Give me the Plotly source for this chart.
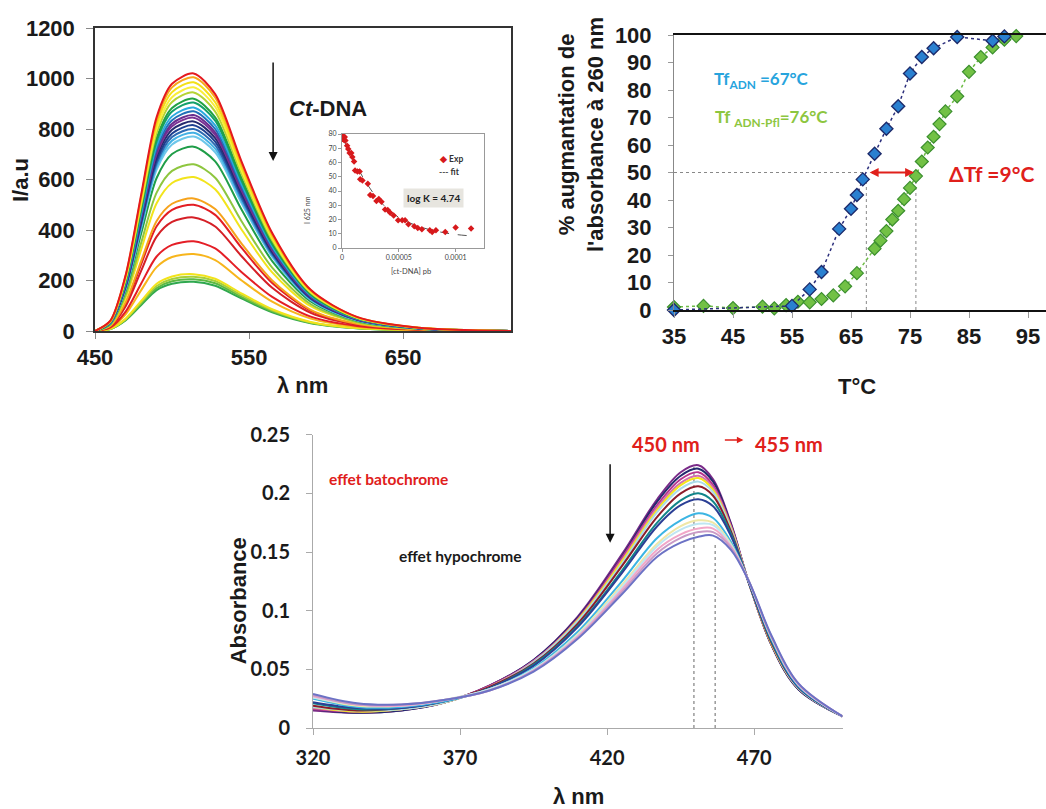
import plotly.graph_objects as go

W, H = 1046, 809
def PX(x): return x / W
def PY(y): return 1 - y / H

# ---------------- top-left: emission spectra ----------------
em_wavelength = [450, 460, 470, 480, 490, 500, 514, 528, 545, 565, 590, 620, 660, 720]
em_intensity = [
    [0, 41, 224, 541, 847, 979, 1020, 938, 673, 388, 163, 56, 13, 0],
    [0, 40, 221, 533, 834, 965, 1005, 925, 663, 382, 161, 55, 13, 0],
    [0, 39, 217, 522, 818, 946, 985, 906, 650, 374, 158, 54, 13, 0],
    [0, 39, 212, 511, 801, 926, 965, 888, 637, 367, 154, 53, 13, 0],
    [0, 38, 208, 501, 784, 907, 945, 869, 624, 359, 151, 52, 12, 0],
    [0, 37, 202, 488, 764, 883, 920, 846, 607, 350, 147, 51, 12, 0],
    [0, 36, 199, 480, 751, 869, 905, 833, 597, 344, 145, 50, 12, 0],
    [0, 35, 195, 469, 735, 850, 885, 814, 584, 336, 142, 49, 12, 0],
    [0, 35, 191, 461, 722, 835, 870, 800, 574, 331, 139, 48, 11, 0],
    [0, 34, 188, 453, 710, 821, 855, 787, 564, 325, 137, 47, 11, 0],
    [0, 34, 186, 448, 701, 811, 845, 777, 558, 321, 135, 46, 11, 0],
    [0, 33, 183, 440, 689, 797, 830, 764, 548, 315, 133, 46, 11, 0],
    [0, 33, 179, 432, 676, 782, 815, 750, 538, 310, 130, 45, 11, 0],
    [0, 32, 176, 424, 664, 768, 800, 736, 528, 304, 128, 44, 10, 0],
    [0, 31, 173, 416, 652, 754, 785, 722, 518, 298, 126, 43, 10, 0],
    [0, 31, 169, 408, 639, 739, 770, 708, 508, 293, 123, 42, 10, 0],
    [0, 29, 161, 387, 606, 701, 730, 672, 482, 277, 117, 40, 9, 0],
    [0, 26, 145, 350, 548, 634, 660, 607, 436, 251, 106, 36, 9, 0],
    [0, 24, 134, 323, 506, 586, 610, 561, 403, 232, 98, 34, 8, 0],
    [0, 21, 116, 278, 436, 504, 525, 483, 347, 200, 84, 29, 7, 0],
    [0, 20, 110, 265, 415, 480, 500, 460, 330, 190, 80, 28, 7, 0],
    [0, 18, 99, 239, 374, 432, 450, 414, 297, 171, 72, 25, 6, 0],
    [0, 14, 78, 188, 295, 341, 355, 327, 234, 135, 57, 20, 5, 0],
    [0, 12, 67, 162, 253, 293, 305, 281, 201, 116, 49, 17, 4, 0],
    [0, 9, 50, 119, 187, 216, 225, 207, 149, 86, 36, 12, 3, 0],
    [0, 9, 47, 114, 178, 206, 215, 198, 142, 82, 34, 12, 3, 0],
    [0, 8, 45, 109, 170, 197, 205, 189, 135, 78, 33, 11, 3, 0],
    [0, 8, 43, 103, 162, 187, 195, 179, 129, 74, 31, 11, 3, 0],
]
em_colors = ['#e4191e', '#f7a81b', '#f3e016', '#f9ee3a', '#b5d334', '#22a243', '#14a06a',
             '#2aa9df', '#2170b8', '#6a2e8f', '#7b3294', '#262b6f', '#1d3f8f', '#2d6ab2',
             '#43b1e4', '#6dc7ea', '#1f9d48', '#8ec63f', '#f2e41c', '#f6a31c', '#e31e24',
             '#d51f26', '#e41e26', '#f7b51c', '#f2e31b', '#a6cf3a', '#5db944', '#2fa84f']

# inset: quenching curve
inset_conc = [0, 0.0000006, 0.0000015, 0.0000024, 0.000003, 0.0000045, 0.0000055, 0.0000067,
              0.0000082, 0.0000091, 0.0000106, 0.0000115, 0.0000136, 0.0000155, 0.000016,
              0.000018, 0.0000227, 0.0000248, 0.0000273, 0.0000303, 0.0000324, 0.0000348,
              0.0000379, 0.0000403, 0.0000424, 0.0000455, 0.0000494, 0.000053, 0.0000555,
              0.0000585, 0.0000636, 0.0000667, 0.0000703, 0.0000773, 0.0000794, 0.0000827,
              0.0000909, 0.0001, 0.0001136]
inset_int = [77.2, 78.8, 76, 77.9, 75.5, 71.8, 69.4, 66.6, 66.6, 63.8, 60.7, 54.4, 53.6, 53.6,
             48.2, 47.3, 45, 37.2, 36.5, 32.9, 34.4, 32.5, 27, 26.6, 24.7, 22.8, 19.5, 19.5,
             19.5, 16.7, 15.3, 14.1, 13.2, 12.5, 11.3, 12.5, 11.3, 14.4, 13.6]
fit_conc = [0, 0.00001, 0.00002, 0.00003, 0.00004, 0.00005, 0.00006, 0.00007, 0.00008,
            0.00009, 0.0001, 0.000113]
fit_int = [78, 62, 47.5, 36, 27.5, 21.5, 17.5, 14.5, 12.3, 10.7, 9.5, 8.5]

# ---------------- top-right: melting curves ----------------
t_adn = [35, 55, 58, 60, 63, 65, 66, 67, 69, 71, 73, 75, 77, 79, 83, 89, 91]
p_adn = [0, 1.5, 7.5, 13.8, 29.5, 36.8, 41.8, 47.5, 56.8, 65.9, 74.1, 86, 92, 95.2, 99.3, 97.9, 99.5]
t_pfl = [35, 40, 45, 50, 52, 54, 56, 58, 60, 62, 64, 66, 69, 70, 71, 72, 73, 74, 75, 76,
         77, 78, 79, 80, 81, 83, 85, 87, 89, 91, 93]
p_pfl = [1.1, 1.5, 0.7, 1.2, 0.6, 1.8, 3, 2.8, 4, 5.3, 8.6, 13.4, 22.3, 25.2, 28.7, 32.9,
         36.1, 40.3, 44.4, 48.7, 54, 59.1, 63, 67.6, 72.2, 77.7, 86.6, 92, 95.5, 98.3, 99.6]
tm_adn, tm_pfl, half_melt = 67.6, 76.0, 50

# ---------------- bottom: absorption spectra ----------------
abs_wavelength = [320, 335, 350, 365, 380, 395, 410, 425, 437, 445, 451, 456, 462, 468, 476, 485, 500]
abs_curves = [
    [0.015, 0.013, 0.015, 0.022, 0.036, 0.058, 0.095, 0.148, 0.195, 0.218, 0.224, 0.212, 0.175, 0.125, 0.070, 0.033, 0.010],
    [0.016, 0.013, 0.015, 0.022, 0.036, 0.058, 0.094, 0.146, 0.193, 0.215, 0.221, 0.210, 0.174, 0.125, 0.070, 0.033, 0.010],
    [0.016, 0.014, 0.016, 0.022, 0.036, 0.057, 0.093, 0.145, 0.190, 0.212, 0.218, 0.207, 0.173, 0.125, 0.071, 0.034, 0.010],
    [0.017, 0.014, 0.016, 0.022, 0.035, 0.057, 0.092, 0.143, 0.188, 0.209, 0.215, 0.205, 0.172, 0.125, 0.071, 0.034, 0.010],
    [0.018, 0.014, 0.016, 0.022, 0.035, 0.056, 0.092, 0.142, 0.186, 0.207, 0.213, 0.203, 0.171, 0.125, 0.071, 0.034, 0.010],
    [0.018, 0.015, 0.016, 0.022, 0.035, 0.056, 0.091, 0.140, 0.184, 0.204, 0.210, 0.201, 0.170, 0.125, 0.072, 0.034, 0.010],
    [0.019, 0.015, 0.017, 0.023, 0.035, 0.055, 0.089, 0.138, 0.180, 0.200, 0.206, 0.198, 0.168, 0.125, 0.072, 0.035, 0.010],
    [0.021, 0.016, 0.017, 0.023, 0.034, 0.054, 0.087, 0.134, 0.175, 0.194, 0.200, 0.193, 0.166, 0.125, 0.073, 0.035, 0.010],
    [0.022, 0.017, 0.017, 0.023, 0.034, 0.053, 0.086, 0.132, 0.172, 0.190, 0.195, 0.189, 0.164, 0.125, 0.074, 0.035, 0.010],
    [0.025, 0.018, 0.018, 0.023, 0.033, 0.051, 0.082, 0.125, 0.162, 0.177, 0.183, 0.179, 0.159, 0.126, 0.075, 0.036, 0.010],
    [0.026, 0.019, 0.019, 0.024, 0.033, 0.050, 0.080, 0.122, 0.157, 0.172, 0.177, 0.175, 0.157, 0.126, 0.076, 0.037, 0.010],
    [0.026, 0.020, 0.019, 0.024, 0.033, 0.050, 0.079, 0.120, 0.155, 0.169, 0.174, 0.173, 0.156, 0.126, 0.077, 0.037, 0.010],
    [0.027, 0.020, 0.019, 0.024, 0.032, 0.049, 0.078, 0.118, 0.152, 0.165, 0.170, 0.170, 0.155, 0.126, 0.077, 0.037, 0.010],
    [0.028, 0.020, 0.020, 0.024, 0.032, 0.049, 0.077, 0.116, 0.149, 0.162, 0.167, 0.167, 0.154, 0.126, 0.077, 0.038, 0.010],
    [0.029, 0.021, 0.020, 0.024, 0.032, 0.048, 0.076, 0.114, 0.146, 0.158, 0.163, 0.164, 0.152, 0.126, 0.078, 0.038, 0.010],
]
abs_colors = ['#7a2a88', '#232a6e', '#b6358e', '#d36fb0', '#f5e51b', '#a9dbe9', '#8c1d2a',
              '#12858a', '#2b3f95', '#3cb5e3', '#efe7a6', '#bfe6f2', '#f2a7c8', '#c99ac6', '#6c72c5']
abs_peak_lines = [449.5, 456.7]
abs_peak_tops = [0.224, 0.158]

ARIAL = 'Liberation Sans'
CAL = 'Lato'

fig = go.Figure()

for yv, c in reversed(list(zip(em_intensity, em_colors))):
    fig.add_trace(go.Scatter(x=em_wavelength, y=yv, mode='lines',
                             line=dict(color=c, width=2, shape='spline', smoothing=0.8),
                             xaxis='x', yaxis='y', showlegend=False, hoverinfo='skip'))

fig.add_trace(go.Scatter(x=fit_conc, y=fit_int, mode='lines', name='fit',
                         line=dict(color='#555555', width=1, dash='dash', shape='spline'),
                         xaxis='x2', yaxis='y2', showlegend=False))
fig.add_trace(go.Scatter(x=inset_conc, y=inset_int, mode='markers', name='Exp',
                         marker=dict(symbol='diamond', size=5, color='#d7191c'),
                         xaxis='x2', yaxis='y2', showlegend=False))

fig.add_trace(go.Scatter(x=t_pfl, y=p_pfl, mode='lines+markers', cliponaxis=False,
                         line=dict(color='#6dbb45', width=1.5, dash='dot'),
                         marker=dict(symbol='diamond', size=10, color='#72c145',
                                     line=dict(color='#3b8f2e', width=1.2)),
                         xaxis='x3', yaxis='y3', showlegend=False))
fig.add_trace(go.Scatter(x=t_adn, y=p_adn, mode='lines+markers', cliponaxis=False,
                         line=dict(color='#2c2f7c', width=1.5, dash='dot'),
                         marker=dict(symbol='diamond', size=10, color='#2a80d0',
                                     line=dict(color='#1d2b6b', width=1.4)),
                         xaxis='x3', yaxis='y3', showlegend=False))

for yv, c in zip(abs_curves, abs_colors):
    fig.add_trace(go.Scatter(x=abs_wavelength, y=yv, mode='lines',
                             line=dict(color=c, width=2, shape='spline', smoothing=1.0),
                             xaxis='x4', yaxis='y4', showlegend=False, hoverinfo='skip'))

tick_big = dict(family=ARIAL, size=22, color='#1a1a1a', weight='bold')
tick_cal = dict(family=CAL, size=20, color='#1a1a1a', weight='bold')
common = dict(showgrid=False, zeroline=False, showline=True, ticks='outside', automargin=False)

layout = dict(
    template='none', showlegend=False,
    width=W, height=H, autosize=False,
    margin=dict(l=0, r=0, t=0, b=0, pad=0),
    paper_bgcolor='white', plot_bgcolor='white',
    xaxis=dict(**common, domain=[PX(95), PX(511)], range=[450, 720], tickvals=[450, 550, 650],
               linecolor='#333', linewidth=1.5, mirror=True, ticklen=6, tickcolor='#888',
               tickfont=tick_big, ticklabelstandoff=0, anchor='y'),
    yaxis=dict(**common, domain=[PY(331), PY(28)], range=[0, 1200], dtick=200,
               linecolor='#333', linewidth=1.5, mirror=True, ticklen=7, tickcolor='#888',
               tickfont=tick_big, ticklabelstandoff=7, anchor='x'),
    xaxis2=dict(**common, domain=[PX(342), PX(484)], range=[0, 0.000125],
                tickvals=[0, 0.00005, 0.0001], ticktext=['0', '0.00005', '0.0001'],
                linecolor='#999', mirror=True, ticklen=3, tickcolor='#999',
                tickfont=dict(family=CAL, size=7, color='#444'), anchor='y2'),
    yaxis2=dict(**common, domain=[PY(248), PY(134)], range=[0, 80], dtick=10,
                linecolor='#999', mirror=True, ticklen=3, tickcolor='#999',
                tickfont=dict(family=CAL, size=7, color='#444'), anchor='x2'),
    xaxis3=dict(**common, domain=[PX(674), 1.0], range=[35, 98.05], tickvals=[35, 45, 55, 65, 75, 85, 95],
                linecolor='#111', linewidth=1.5, mirror=True, ticklen=6, tickcolor='#999',
                tickfont=tick_big, ticklabelstandoff=0, anchor='y3'),
    yaxis3=dict(**common, domain=[PY(310), PY(35)], range=[0, 100], dtick=10,
                linecolor='#888', ticklen=5, tickcolor='#999',
                tickfont=tick_big, ticklabelstandoff=12, anchor='x3'),
    xaxis4=dict(**common, domain=[PX(313), PX(842.5)], range=[320, 500], tickvals=[320, 370, 420, 470],
                linecolor='#aaa', ticklen=6, tickcolor='#aaa',
                tickfont=tick_cal, ticklabelstandoff=6, anchor='y4'),
    yaxis4=dict(**common, domain=[PY(728), PY(434.7)], range=[0, 0.25],
                tickvals=[0, 0.05, 0.1, 0.15, 0.2, 0.25], ticktext=['0', '0.05', '0.1', '0.15', '0.2', '0.25'],
                linecolor='#aaa', ticklen=6, tickcolor='#aaa',
                tickfont=tick_cal, ticklabelstandoff=12, anchor='x4'),
)
fig.update_layout(**layout)

title_font = dict(family=ARIAL, size=22, color='#1a1a1a', weight='bold')
C = dict(xanchor='center', yanchor='middle', showarrow=False)
ann = []
# axis titles
ann.append(dict(text='I/a.u', x=PX(20), y=PY(180), xref='paper', yref='paper', textangle=-90,
                font=title_font, **C))
ann.append(dict(text='λ nm', x=PX(302), y=PY(385), xref='paper', yref='paper', font=title_font, **C))
ann.append(dict(text="% augmantation de<br>l'absorbance à 260 nm", x=PX(581), y=PY(135),
                xref='paper', yref='paper', textangle=-90, font=title_font, **C))
ann.append(dict(text='T°C', x=PX(857), y=PY(387), xref='paper', yref='paper', font=title_font, **C))
ann.append(dict(text='Absorbance', x=PX(238.6), y=PY(600.7), xref='paper', yref='paper', textangle=-90,
                font=title_font, **C))
ann.append(dict(text='λ nm', x=PX(578), y=PY(796), xref='paper', yref='paper', font=title_font, **C))
# inset titles and key
ann.append(dict(text='I 625 nm', x=PX(307), y=PY(210), xref='paper', yref='paper', textangle=-90,
                font=dict(family=CAL, size=7, color='#444'), **C))
ann.append(dict(text='[ct-DNA] pb', x=PX(411), y=PY(272), xref='paper', yref='paper',
                font=dict(family=CAL, size=7.5, color='#444'), **C))
ann.append(dict(text='log K = 4.74', x=PX(433), y=PY(198), xref='paper', yref='paper',
                bgcolor='#e7e5df', borderpad=3,
                font=dict(family=CAL, size=10, color='#222', weight='bold'), **C))
ann.append(dict(text="<span style='color:#d7191c'>◆</span> Exp", x=PX(437), y=PY(159),
                xref='paper', yref='paper', xanchor='left', yanchor='middle', showarrow=False,
                font=dict(family=CAL, size=8.5, color='#333', weight='bold')))
ann.append(dict(text="<span style='color:#555'>---</span> fit", x=PX(437), y=PY(172),
                xref='paper', yref='paper', xanchor='left', yanchor='middle', showarrow=False,
                font=dict(family=CAL, size=8.5, color='#333', weight='bold')))
# top-left arrow + label
ann.append(dict(text='', x=565.6, y=673, ax=565.6, ay=1069, xref='x', yref='y', axref='x', ayref='y',
                showarrow=True, arrowhead=2, arrowsize=1.2, arrowwidth=1.5, arrowcolor='#111'))
ann.append(dict(text='<i>Ct</i>-DNA', x=601, y=883, xref='x', yref='y',
                font=dict(family=ARIAL, size=22, color='#1a1a1a', weight='bold'), **C))
# top-right annotations
ann.append(dict(text='Tf<sub>ADN</sub> =67°C', x=41.4, y=83.6, xref='x3', yref='y3', xanchor='left',
                yanchor='middle', showarrow=False,
                font=dict(family=CAL, size=17, color='#27a4dd', weight='bold')))
ann.append(dict(text='Tf <sub>ADN-Pfl</sub>=76°C', x=41.6, y=69.8, xref='x3', yref='y3', xanchor='left',
                yanchor='middle', showarrow=False,
                font=dict(family=CAL, size=17, color='#8dc63f', weight='bold')))
ann.append(dict(text='ΔTf =9°C', x=81.3, y=49.5, xref='x3', yref='y3', xanchor='left',
                yanchor='middle', showarrow=False,
                font=dict(family=CAL, size=21, color='#e0201b', weight='bold')))
ann.append(dict(text='', x=tm_pfl - 0.3, y=half_melt, ax=tm_adn + 0.3, ay=half_melt,
                xref='x3', yref='y3', axref='x3', ayref='y3', showarrow=True,
                arrowhead=2, startarrowhead=2, arrowside='end+start', arrowsize=1,
                arrowwidth=1.8, arrowcolor='#e0201b'))
# bottom annotations
ann.append(dict(text='', x=421, y=0.158, ax=421, ay=0.226, xref='x4', yref='y4', axref='x4', ayref='y4',
                showarrow=True, arrowhead=2, arrowsize=1.2, arrowwidth=1.5, arrowcolor='#111'))
ann.append(dict(text='450 nm', x=439.9, y=0.242, xref='x4', yref='y4',
                font=dict(family=CAL, size=20, color='#e0201b', weight='bold'), **C))
ann.append(dict(text='455 nm', x=481.7, y=0.242, xref='x4', yref='y4',
                font=dict(family=CAL, size=20, color='#e0201b', weight='bold'), **C))
ann.append(dict(text='', x=466.3, y=0.2455, ax=459.5, ay=0.2455, xref='x4', yref='y4', axref='x4',
                ayref='y4', showarrow=True, arrowhead=2, arrowsize=1, arrowwidth=1.3, arrowcolor='#e0201b'))
ann.append(dict(text='effet batochrome', x=345.7, y=0.2122, xref='x4', yref='y4',
                font=dict(family=CAL, size=15.5, color='#e0201b', weight='bold'), **C))
ann.append(dict(text='effet hypochrome', x=370, y=0.1466, xref='x4', yref='y4',
                font=dict(family=CAL, size=15.5, color='#1a1a1a', weight='bold'), **C))
fig.update_layout(annotations=ann)

shapes = [
    dict(type='line', xref='x3', yref='y3', x0=35, x1=tm_adn, y0=half_melt, y1=half_melt,
         line=dict(color='#888', width=1, dash='dot'), layer='below'),
    dict(type='line', xref='x3', yref='y3', x0=tm_adn, x1=tm_adn, y0=0, y1=half_melt,
         line=dict(color='#888', width=1, dash='dot'), layer='below'),
    dict(type='line', xref='x3', yref='y3', x0=tm_pfl, x1=tm_pfl, y0=0, y1=half_melt,
         line=dict(color='#888', width=1, dash='dot'), layer='below'),
]
for xl, yt in zip(abs_peak_lines, abs_peak_tops):
    shapes.append(dict(type='line', xref='x4', yref='y4', x0=xl, x1=xl, y0=0, y1=yt,
                       line=dict(color='#666', width=1, dash='dot'), layer='below'))
fig.update_layout(shapes=shapes)

fig.write_html('out.html', config={'displayModeBar': False},
               post_script="document.body.style.margin='0px';document.body.style.overflow='hidden';")
